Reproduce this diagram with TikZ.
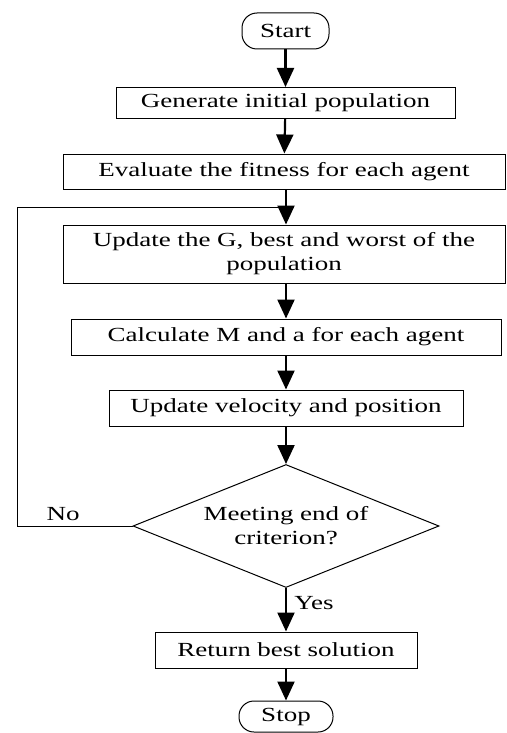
\documentclass[tikz,border=0pt]{standalone}
\usepackage{fontspec}
\setmainfont{Liberation Serif}[FakeStretch=1.35]
\usepackage{tikz}
\usetikzlibrary{shapes.geometric, arrows.meta}

\begin{document}
\begin{tikzpicture}[
  x=1pt, y=1pt,
  font=\fontsize{20}{24}\selectfont,
  box/.style={draw, line width=1pt, inner sep=0pt, align=center},
  term/.style={box, rounded corners=15pt},
  check/.style={box, diamond, aspect=2.49},
  flow/.style={line width=2.2pt, -{Triangle[length=19pt,width=17pt]}},
  back/.style={line width=1pt}]
    \useasboundingbox (0,0) rectangle (506,-733);
    % Terminal and process nodes, top to bottom
    \node[term, minimum width=87pt, minimum height=36pt] (start) at (285.5,-31) {Start};
    \node[box, minimum width=339pt, minimum height=31pt] (init) at (285.5,-103) {Generate initial population};
    \node[box, minimum width=442pt, minimum height=35pt] (fitness) at (284,-171.5) {Evaluate the fitness for each agent};
    \node[box, minimum width=442pt, minimum height=58pt] (update) at (284,-254) {Update the G, best and worst of the\\population};
    \node[box, minimum width=430pt, minimum height=36pt] (mass) at (286,-337) {Calculate M and a for each agent};
    \node[box, minimum width=354pt, minimum height=36pt] (move) at (286,-408) {Update velocity and position};
    % Decision on the stopping rule
    \node[check, minimum width=306pt, minimum height=123pt] (stopcheck) at (286,-526) {Meeting end of\\criterion?};
    \node[box, minimum width=262pt, minimum height=36pt] (best) at (286,-650) {Return best solution};
    \node[term, minimum width=94pt, minimum height=31pt] (stop) at (286,-716.5) {Stop};
    % Loop back when the criterion is not met
    \coordinate (join) at (286,-207);
    \coordinate (corner) at (17,-526);
    \draw[back] (stopcheck.west) -- node[above=1pt, pos=0.6] (no) {No} (corner) |- (join);
    % Main flow
    \draw[flow] (start) -- (init);
    \draw[flow] (init) -- (fitness);
    \draw[flow] (fitness.south -| join) -- (update.north -| join);
    \draw[flow] (update.south -| join) -- (mass);
    \draw[flow] (mass) -- (move);
    \draw[flow] (move) -- (stopcheck);
    \draw[flow] (stopcheck) -- node[right=4pt, pos=0.35] (yes) {Yes} (best);
    \draw[flow] (best) -- (stop);
\end{tikzpicture}
\end{document}
